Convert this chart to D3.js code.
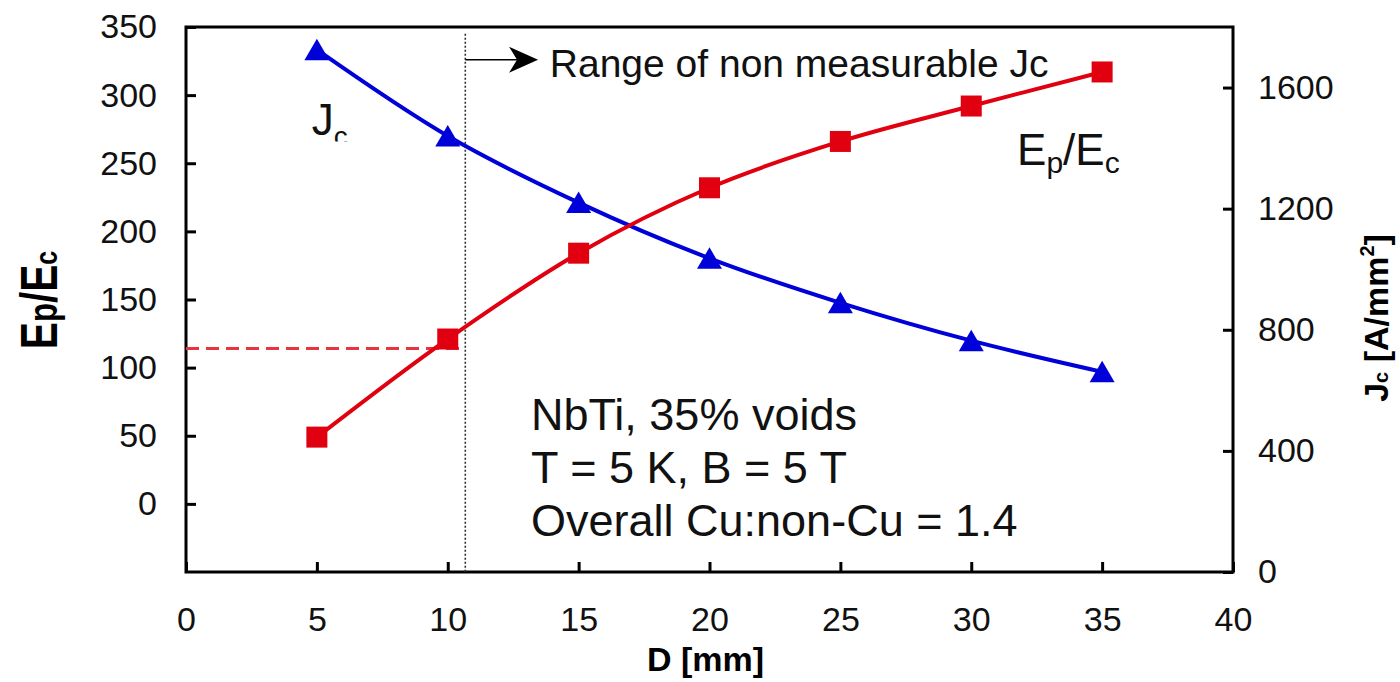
<!DOCTYPE html>
<html>
<head>
<meta charset="utf-8">
<script src="https://cdn.jsdelivr.net/npm/d3@7"></script>
<style>
	body { margin: 0; background: #fff; }
	svg { display: block; font-family: "Liberation Sans", Arial, sans-serif; }
	.axis text { font-size: 34px; fill: #111; }
	.axis line { stroke: #000; stroke-width: 3; }
</style>
</head>
<body>
<svg id="chart" width="1400" height="682"></svg>
<script>
// conductor diameter D [mm]
const diameters = [5, 10, 15, 20, 25, 30, 35];
// Ep/Ec, left axis
const epEc = [49, 121, 184, 232, 266, 292, 317];
// Jc [A/mm2], right axis
const jc = [1725, 1440, 1220, 1036, 889, 764, 661];

const xTicks = [0, 5, 10, 15, 20, 25, 30, 35, 40];
const leftTicks = [0, 50, 100, 150, 200, 250, 300, 350];
const rightTicks = [0, 400, 800, 1200, 1600];

// limit of measurable Jc and the Ep/Ec level at that diameter
const cutoffD = 10.67;
const cutoffEp = 114;

const infoLines = ["NbTi, 35% voids", "T = 5 K, B = 5 T", "Overall Cu:non-Cu = 1.4"];

const red = "#e0000f", blue = "#0000d8";

const svg = d3.select("#chart");

const x = d3.scaleLinear().domain([0, 40]).range([186, 1233]);
const yL = d3.scaleLinear().domain([-50, 350]).range([572, 27]);
const yR = d3.scaleLinear().domain([0, 1800]).range([572, 27]);

// axes, ticks pointing inward
svg.append("g")
	.attr("class", "axis")
	.attr("transform", "translate(0," + yL(-50) + ")")
	.call(d3.axisBottom(x).tickValues(xTicks).tickSizeInner(-10).tickSizeOuter(0).tickPadding(35))
	.call(g => g.select(".domain").remove());

svg.append("g")
	.attr("class", "axis")
	.attr("transform", "translate(" + x(0) + ",0)")
	.call(d3.axisLeft(yL).tickValues(leftTicks).tickSizeInner(-10).tickSizeOuter(0).tickPadding(29))
	.call(g => g.select(".domain").remove());

svg.append("g")
	.attr("class", "axis")
	.attr("transform", "translate(" + x(40) + ",0)")
	.call(d3.axisRight(yR).tickValues(rightTicks).tickFormat(d3.format("d"))
		.tickSizeInner(-10).tickSizeOuter(0).tickPadding(25))
	.call(g => g.select(".domain").remove());

svg.append("rect")
	.attr("x", x(0))
	.attr("y", yL(350))
	.attr("width", x(40) - x(0))
	.attr("height", yL(-50) - yL(350))
	.attr("fill", "none")
	.attr("stroke", "#000")
	.attr("stroke-width", 3);

// axis titles
svg.append("text")
	.attr("x", (x(0) + x(40)) / 2 - 4)
	.attr("y", 671)
	.attr("text-anchor", "middle")
	.attr("font-size", 34)
	.attr("font-weight", "bold")
	.text("D [mm]");

const leftTitle = svg.append("text")
	.attr("transform", "translate(57,300) rotate(-90) scale(0.78,1)")
	.attr("text-anchor", "middle")
	.attr("font-weight", "bold")
	.attr("font-size", 52);
leftTitle.append("tspan").text("E");
leftTitle.append("tspan").attr("font-size", 40).text("p");
leftTitle.append("tspan").text("/E");
leftTitle.append("tspan").attr("font-size", 32).text("c");

const rightTitle = svg.append("text")
	.attr("transform", "translate(1388,318) rotate(-90)")
	.attr("text-anchor", "middle")
	.attr("font-weight", "bold")
	.attr("font-size", 34);
rightTitle.append("tspan").text("J");
rightTitle.append("tspan").attr("font-size", 20).text("c");
rightTitle.append("tspan").text(" [A/mm");
rightTitle.append("tspan").attr("font-size", 20).attr("dy", -14).text("2");
rightTitle.append("tspan").attr("dy", 14).text("]");

// limit of measurable Jc
svg.append("line")
	.attr("x1", x(cutoffD)).attr("x2", x(cutoffD))
	.attr("y1", yL(345)).attr("y2", yL(-50))
	.attr("stroke", "#333")
	.attr("stroke-width", 1.6)
	.attr("stroke-dasharray", "2,2");

svg.append("line")
	.attr("x1", x(0)).attr("x2", x(cutoffD))
	.attr("y1", yL(cutoffEp)).attr("y2", yL(cutoffEp))
	.attr("stroke", "#e8343c")
	.attr("stroke-width", 3)
	.attr("stroke-dasharray", "13,7");

const arrowY = yL(326), arrowTip = x(13.45);
svg.append("line")
	.attr("x1", x(cutoffD)).attr("x2", arrowTip - 20)
	.attr("y1", arrowY).attr("y2", arrowY)
	.attr("stroke", "#000")
	.attr("stroke-width", 1.6);
svg.append("path")
	.attr("d", `M${arrowTip},${arrowY} L${arrowTip - 29},${arrowY - 13} L${arrowTip - 21},${arrowY} L${arrowTip - 29},${arrowY + 13} Z`)
	.attr("fill", "#000");

svg.append("text")
	.attr("x", x(13.9))
	.attr("y", yL(313))
	.attr("font-size", 39)
	.attr("fill", "#111")
	.text("Range of non measurable Jc");

// series
const curve = d3.line()
	.x((d, i) => x(diameters[i]))
	.curve(d3.curveCatmullRom.alpha(0.5));

svg.append("path")
	.attr("d", curve.y(d => yR(d))(jc))
	.attr("fill", "none")
	.attr("stroke", blue)
	.attr("stroke-width", 4);

svg.append("path")
	.attr("d", curve.y(d => yL(d))(epEc))
	.attr("fill", "none")
	.attr("stroke", red)
	.attr("stroke-width", 4);

svg.selectAll("rect.sq")
	.data(epEc)
	.join("rect")
	.attr("class", "sq")
	.attr("x", (d, i) => x(diameters[i]) - 10.5)
	.attr("y", d => yL(d) - 10.5)
	.attr("width", 21)
	.attr("height", 21)
	.attr("fill", red);

svg.selectAll("path.tri")
	.data(jc)
	.join("path")
	.attr("class", "tri")
	.attr("d", "M0,-11 L12.5,10.5 L-12.5,10.5 Z")
	.attr("transform", (d, i) => "translate(" + x(diameters[i]) + "," + yR(d) + ")")
	.attr("fill", blue);

// series labels
svg.append("clipPath")
	.attr("id", "jcClip")
	.append("rect")
	.attr("x", 290).attr("y", 90)
	.attr("width", 100).attr("height", 51.5);

const jcLabel = svg.append("text")
	.attr("clip-path", "url(#jcClip)")
	.attr("x", x(4.8))
	.attr("y", 135)
	.attr("font-size", 44)
	.attr("fill", "#111");
jcLabel.append("tspan").text("J");
jcLabel.append("tspan").attr("dy", 11).attr("font-size", 28).text("c");

const epLabel = svg.append("text")
	.attr("x", x(31.75))
	.attr("y", 165)
	.attr("font-size", 44)
	.attr("fill", "#111");
epLabel.append("tspan").text("E");
epLabel.append("tspan").attr("dy", 8).attr("font-size", 30).text("p");
epLabel.append("tspan").attr("dy", -8).text("/E");
epLabel.append("tspan").attr("dy", 8).attr("font-size", 30).text("c");

// conditions
svg.append("g")
	.selectAll("text")
	.data(infoLines)
	.join("text")
	.attr("x", 531)
	.attr("y", (d, i) => 430 + i * 53)
	.attr("font-size", 45)
	.attr("fill", "#111")
	.text(d => d);
</script>
</body>
</html>
